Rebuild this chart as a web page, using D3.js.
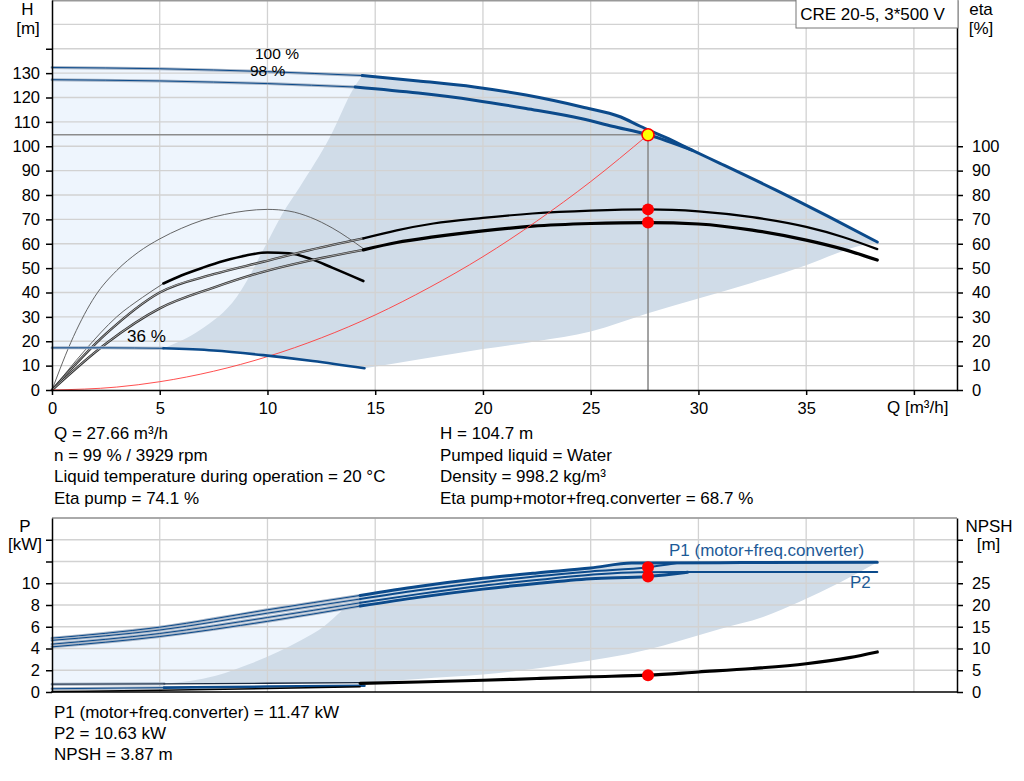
<!DOCTYPE html>
<html lang="en">
<head>
<meta charset="UTF-8">
<title>CRE 20-5, 3*500 V</title>
<script src="https://d3js.org/d3.v7.min.js"></script>
<style>
  body { margin: 0; background: #fff; }
  svg text { font-family: "Liberation Sans", Arial, sans-serif; font-size: 17px; fill: #000; }
  .grid line { stroke: #d2d2d2; stroke-width: 1.3; }
  .axis path, .axis line { stroke: #000; stroke-width: 1.5; }
  .axis text { font-size: 16.5px; }
  .speed { font-size: 15.5px; }
</style>
</head>
<body>
<svg id="chart" width="1024" height="781"></svg>
<script>
// ---- head curves [Q m3/h, H m] ----
const h100Thin = [[0, 132.3], [5, 131.8], [10, 130.6], [14.4, 129]];
const h100 = [[14.4, 129], [17, 126.8], [19.6, 124.3], [22, 121], [24.6, 116.1], [26.4, 112], [27.3, 108.2],
  [28.5, 103.5], [29.7, 98.4], [31, 93], [33.6, 82], [36, 71.3], [38.3, 60.7]];
const h98Thin = [[0, 127.3], [5, 126.8], [10, 125.7], [14.07, 124.3]];
const h98 = [[14.07, 124.3], [17, 121.8], [19.6, 118.9], [22, 115.5], [24.6, 111.3], [26, 108.2], [27.66, 104.7], [29.7, 98.4]];
const h36Thin = [[0, 17.3], [2.5, 17.3], [5.17, 17.1]];
const h36 = [[5.17, 17.1], [7.5, 16.2], [9.8, 14.3], [12.1, 11.9], [14.5, 8.9]];
const systemCurve = [[0, 0], [3, 1.2], [5, 3.4], [7.5, 7.7], [10, 13.7], [12.5, 21.4], [15, 30.8], [17.5, 42],
  [20, 54.7], [22.5, 69.3], [25, 85.5], [27.66, 104.7]];

// operating range boundaries [Q, H]
const rangeLeftH = [[5.17, 17.1], [6.87, 24.6], [8.57, 38.2], [9.96, 60.1], [10.7, 72.4], [11.5, 83.3], [12.9, 103.8], [14, 123.8], [14.4, 129]];
const rangeLowH = [[14.5, 8.9], [17, 12.5], [20, 16.8], [22.5, 20], [25, 24], [27.66, 31.5], [30, 37.5], [32.5, 44], [35, 51.2], [37.4, 59], [38.3, 60.7]];

// ---- efficiency curves [Q, eta %] ----
const etaPump36 = [[0, 0], [1, 22], [2, 38.5], [3, 49], [4, 56.5], [5, 62], [6, 66.3], [7, 69.7], [8, 72], [9, 73.5],
  [10, 74.1], [11, 73.4], [12, 70.8], [13, 66.5], [14.45, 58]];
const etaTot36Thin = [[0, 0], [1.5, 16], [3, 30], [4.2, 38], [5.17, 43.7]];
const etaTot36 = [[5.17, 43.7], [6, 47], [7, 50.2], [8, 53], [9, 55.2], [10, 56.4], [11, 56.1], [12, 53.8], [13, 50.2], [14.45, 44.7]];
const etaPumpThin = [[0, 0], [2.5, 23], [5, 40], [7.5, 47.5], [9.8, 52.6], [12, 57.5], [14.45, 62.2]];
const etaTotThin = [[0, 0], [2.5, 19], [5, 33.5], [7.5, 42], [9.8, 48.5], [12, 53.2], [14.45, 57.5]];
const etaPump = [[14.45, 62.2], [16, 65.5], [17.7, 68.3], [20, 70.6], [22.3, 72.4], [25, 73.6], [27.66, 74.1],
  [30, 73.3], [32.5, 70.9], [35, 66.9], [36.7, 62.8], [38.3, 57.8]];
const etaTot = [[14.45, 57.5], [16, 60.5], [17.7, 62.8], [20, 65.3], [22.3, 67.2], [25, 68.3], [27.66, 68.7],
  [30, 68.1], [32.5, 65.6], [35, 61.5], [36.7, 57.8], [38.3, 53.3]];

// ---- power curves [Q, P kW] ----
const p1TopThin = [[0, 4.95], [5, 5.96], [10, 7.56], [14.3, 8.88]];
const p1LowThin = [[0, 4.75], [5, 5.7], [10, 7.25], [14.3, 8.55]];
const p2TopThin = [[0, 4.4], [5, 5.38], [10, 6.85], [14.3, 8.2]];
const p2LowThin = [[0, 4.15], [5, 5.1], [10, 6.5], [14.3, 7.9]];
const p1Top = [[14.3, 8.88], [17, 9.7], [20, 10.45], [22.5, 10.95], [25, 11.4], [26.9, 11.86], [32, 11.9], [38.3, 11.92]];
const p1Low = [[14.3, 8.55], [17, 9.35], [20, 10.1], [22.5, 10.65], [25, 11.09], [27.66, 11.47], [29, 11.86]];
const p2Top = [[14.3, 8.2], [17, 9.0], [20, 9.77], [22.5, 10.3], [25, 10.78], [27.2, 11.02], [32, 11.03], [38.3, 11.03]];
const p2Low = [[14.3, 7.9], [17, 8.7], [20, 9.46], [22.5, 9.98], [25, 10.41], [27.66, 10.63], [29.5, 11.02]];
const p1MinThin = [[0, 0.72], [5.2, 0.75]];
const p1Min = [[5.2, 0.75], [10, 0.8], [14.5, 0.86]];
const p2MinThin = [[0, 0.3], [5.2, 0.4]];
const p2Min = [[5.2, 0.4], [10, 0.5], [14.5, 0.58]];
const rangeLeftP = [[5.2, 0.75], [7.6, 1.5], [9.2, 2.6], [10.5, 3.7], [11.6, 4.8], [12.6, 6.0], [13.5, 7.56], [14.3, 8.88]];
const rangeLowP = [[14.5, 0.86], [17, 1.2], [20, 1.6], [24, 2.6], [27.66, 3.9], [29.1, 4.7], [31, 5.8], [33, 6.9], [34.7, 8.3], [36.5, 10], [38.3, 11.92]];

// ---- NPSH [Q, m] ----
const npshMin = [[0, 0.1], [5, 0.4], [10, 0.8], [14.3, 1.2]];
const npsh = [[14.3, 2.0], [17, 2.3], [20, 2.7], [22.5, 3.1], [25, 3.5], [27.66, 3.87], [30, 4.6], [32.5, 5.4], [35, 6.5], [37, 7.9], [38.3, 9.2]];

// duty point
const duty = {q: 27.66, h: 104.7, etaPump: 74.1, etaTot: 68.7, p1: 11.47, p2: 10.63, npsh: 3.87};

const infoLeft = ["Q = 27.66 m\u00b3/h", "n = 99 % / 3929 rpm", "Liquid temperature during operation = 20 \u00b0C", "Eta pump = 74.1 %"];
const infoRight = ["H = 104.7 m", "Pumped liquid = Water", "Density = 998.2 kg/m\u00b3", "Eta pump+motor+freq.converter = 68.7 %"];
const infoPower = ["P1 (motor+freq.converter) = 11.47 kW", "P2 = 10.63 kW", "NPSH = 3.87 m"];

const qTicks = d3.range(0, 45, 5);

const blue = "#0b4a8b";
const svg = d3.select("#chart");

const x = d3.scaleLinear().domain([0, 42]).range([52, 957]);
const yH = d3.scaleLinear().domain([0, 160]).range([390, 0]);
const yP = d3.scaleLinear().domain([0, 16]).range([692, 518]);
const yN = d3.scaleLinear().domain([0, 40]).range([692, 518]);

const gen = d3.line().curve(d3.curveMonotoneX).x(d => x(d[0]));

function pathOf(data, yScale) {
  return gen.y(d => yScale(d[1]))(data);
}

function region(parts, yScale, fill) {
  const d = parts.map((p, i) => {
    const s = pathOf(p, yScale);
    return i === 0 ? s : "L" + s.slice(1);
  }).join("") + "Z";
  svg.append("path").attr("d", d).attr("fill", fill).attr("stroke", "none");
}

function curve(data, yScale, stroke, width) {
  svg.append("path")
    .attr("d", pathOf(data, yScale))
    .attr("fill", "none")
    .attr("stroke", stroke)
    .attr("stroke-width", width)
    .attr("stroke-linejoin", "round")
    .attr("stroke-linecap", "round");
}

// thin curve with a grey halo
function haloCurve(data, yScale, core) {
  curve(data, yScale, "#a6b4c6", 3);
  curve(data, yScale, core, 1);
}

function doubleCurve(data, yScale) {
  curve(data, yScale, "#333", 2.4);
  curve(data, yScale, "#b0b0b0", 0.9);
}

const rev = a => a.slice().reverse();

// ================= top chart =================
region([h100Thin, rev(h36), rev(h36Thin)], yH, "#eef5fd");
region([rangeLeftH, h100, rev(rangeLowH), rev(h36)], yH, "#d0dce8");

const gridTop = svg.append("g").attr("class", "grid");
gridTop.selectAll("line.h").data(d3.range(10, 170, 10)).enter().append("line")
  .attr("x1", x(0)).attr("x2", x(42)).attr("y1", d => yH(d)).attr("y2", d => yH(d));
gridTop.selectAll("line.v").data(qTicks.slice(1)).enter().append("line")
  .attr("x1", d => x(d)).attr("x2", d => x(d)).attr("y1", yH(0)).attr("y2", yH(160));
svg.append("line").attr("x1", x(0)).attr("x2", x(42)).attr("y1", 0.75).attr("y2", 0.75)
  .attr("stroke", "#999").attr("stroke-width", 1.5);

// duty point guide lines
svg.append("line").attr("x1", x(0)).attr("x2", x(duty.q)).attr("y1", yH(duty.h)).attr("y2", yH(duty.h))
  .attr("stroke", "#8c8c8c").attr("stroke-width", 1.6);
svg.append("line").attr("x1", x(duty.q)).attr("x2", x(duty.q)).attr("y1", yH(duty.h)).attr("y2", yH(0))
  .attr("stroke", "#8c8c8c").attr("stroke-width", 1.6);

// efficiency
curve(etaPump36, yH, "#555", 0.9);
curve(etaTot36Thin, yH, "#555", 0.9);
curve(etaTot36, yH, "#000", 2.6);
doubleCurve(etaPumpThin, yH);
doubleCurve(etaTotThin, yH);
curve(etaPump, yH, "#000", 2.2);
curve(etaTot, yH, "#000", 3.2);

// system curve
curve(systemCurve, yH, "#ff3b3b", 0.9);

// head
haloCurve(h100Thin, yH, blue);
haloCurve(h98Thin, yH, blue);
haloCurve(h36Thin, yH, blue);
curve(h36, yH, blue, 2.6);
curve(h100, yH, blue, 3);
curve(h98, yH, blue, 3);

svg.append("text").attr("class", "speed").attr("x", 255).attr("y", 59).text("100 %");
svg.append("text").attr("class", "speed").attr("x", 250).attr("y", 76).text("98 %");
svg.append("text").attr("x", 127).attr("y", 342).text("36 %");

// markers
svg.append("circle").attr("cx", x(duty.q)).attr("cy", yH(duty.h)).attr("r", 6)
  .attr("fill", "#ffff00").attr("stroke", "#ff0000").attr("stroke-width", 1.6);
[duty.etaPump, duty.etaTot].forEach(v => {
  svg.append("circle").attr("cx", x(duty.q)).attr("cy", yH(v)).attr("r", 6).attr("fill", "#ff0000");
});

// axes
svg.append("g").attr("class", "axis").attr("transform", "translate(" + x(0) + ",0)")
  .call(d3.axisLeft(yH).tickValues(d3.range(0, 150, 10)).tickFormat(d => d <= 130 ? d : "")
    .tickSize(6).tickPadding(6).tickSizeOuter(0));
svg.append("g").attr("class", "axis").attr("transform", "translate(" + x(42) + ",0)")
  .call(d3.axisRight(yH).tickValues(d3.range(0, 110, 10)).tickSize(6).tickPadding(9).tickSizeOuter(0));
svg.append("g").attr("class", "axis").attr("transform", "translate(0," + yH(0) + ")")
  .call(d3.axisBottom(x).tickValues(qTicks).tickFormat(d => d < 40 ? d : "")
    .tickSize(5).tickPadding(7).tickSizeOuter(0));

svg.append("text").attr("x", 27.5).attr("y", 15).attr("text-anchor", "middle").text("H");
svg.append("text").attr("x", 28).attr("y", 34).attr("text-anchor", "middle").text("[m]");
svg.append("text").attr("x", 981).attr("y", 15).attr("text-anchor", "middle").text("eta");
svg.append("text").attr("x", 981).attr("y", 34).attr("text-anchor", "middle").text("[%]");
svg.append("text").attr("x", 887).attr("y", 413).text("Q [m\u00b3/h]");

// type box
svg.append("rect").attr("x", 796).attr("y", -1).attr("width", 162).attr("height", 29)
  .attr("fill", "#fff").attr("stroke", "#777").attr("stroke-width", 1);
svg.append("text").attr("x", 872.5).attr("y", 20).attr("text-anchor", "middle").text("CRE 20-5, 3*500 V");

// info text
infoLeft.forEach((t, i) => svg.append("text").attr("x", 54).attr("y", 439 + i * 21.7).text(t));
infoRight.forEach((t, i) => svg.append("text").attr("x", 440).attr("y", 439 + i * 21.7).text(t));

// ================= bottom chart =================
region([p1TopThin, rev(p1Min), rev(p1MinThin)], yP, "#eef5fd");
region([rangeLeftP, p1Top, rev(rangeLowP), rev(p1Min)], yP, "#d0dce8");

const gridBot = svg.append("g").attr("class", "grid");
gridBot.selectAll("line.h").data(d3.range(2, 18, 2)).enter().append("line")
  .attr("x1", x(0)).attr("x2", x(42)).attr("y1", d => yP(d)).attr("y2", d => yP(d));
gridBot.selectAll("line.v").data(qTicks.slice(1)).enter().append("line")
  .attr("x1", d => x(d)).attr("x2", d => x(d)).attr("y1", yP(0)).attr("y2", yP(16));
svg.append("line").attr("x1", x(0)).attr("x2", x(42)).attr("y1", yP(16)).attr("y2", yP(16))
  .attr("stroke", "#999").attr("stroke-width", 1.5);

haloCurve(p1TopThin, yP, blue);
haloCurve(p1LowThin, yP, blue);
haloCurve(p2TopThin, yP, blue);
haloCurve(p2LowThin, yP, blue);
curve(p1Top, yP, blue, 3);
curve(p1Low, yP, blue, 2);
curve(p2Top, yP, blue, 2);
curve(p2Low, yP, blue, 3);

haloCurve(p1MinThin, yP, "#1a2a40");
curve(p1Min, yP, "#1a2a40", 1.4);
haloCurve(p2MinThin, yP, blue);
curve(p2Min, yP, blue, 2.6);

curve(npshMin, yN, "#000", 1.6);
curve(npsh, yN, "#000", 3.2);

[duty.p1, duty.p2].forEach(v => {
  svg.append("circle").attr("cx", x(duty.q)).attr("cy", yP(v)).attr("r", 6).attr("fill", "#ff0000");
});
svg.append("circle").attr("cx", x(duty.q)).attr("cy", yN(duty.npsh)).attr("r", 6).attr("fill", "#ff0000");

svg.append("text").attr("x", 669).attr("y", 556).style("fill", "#1d5a97").text("P1 (motor+freq.converter)");
svg.append("text").attr("x", 850).attr("y", 588).style("fill", "#1d5a97").text("P2");

svg.append("g").attr("class", "axis").attr("transform", "translate(" + x(0) + ",0)")
  .call(d3.axisLeft(yP).tickValues(d3.range(0, 16, 2)).tickFormat(d => d <= 10 ? d : "")
    .tickSize(6).tickPadding(6).tickSizeOuter(0));
svg.append("g").attr("class", "axis").attr("transform", "translate(" + x(42) + ",0)")
  .call(d3.axisRight(yN).tickValues(d3.range(0, 40, 5)).tickFormat(d => d <= 25 ? d : "")
    .tickSize(6).tickPadding(9).tickSizeOuter(0));
svg.append("line").attr("x1", x(0)).attr("x2", x(42)).attr("y1", yP(0)).attr("y2", yP(0))
  .attr("stroke", "#000").attr("stroke-width", 1.5);

svg.append("text").attr("x", 25).attr("y", 532).attr("text-anchor", "middle").text("P");
svg.append("text").attr("x", 25).attr("y", 550).attr("text-anchor", "middle").text("[kW]");
svg.append("text").attr("x", 989).attr("y", 532).attr("text-anchor", "middle").text("NPSH");
svg.append("text").attr("x", 988.5).attr("y", 550).attr("text-anchor", "middle").text("[m]");

infoPower.forEach((t, i) => svg.append("text").attr("x", 54).attr("y", 718 + i * 21).text(t));
</script>
</body>
</html>
